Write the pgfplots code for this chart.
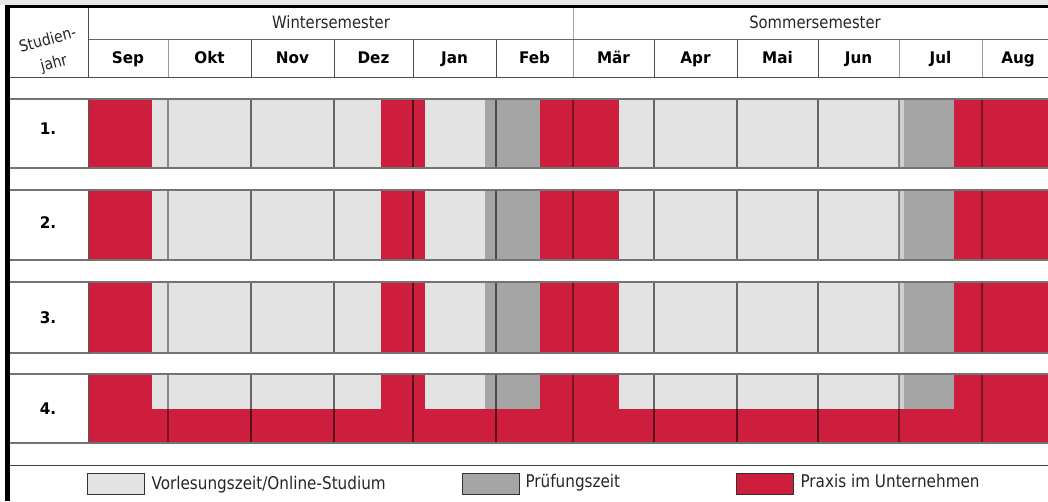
\documentclass[border=0pt]{standalone}
\usepackage{pgfplots}
\pgfplotsset{compat=1.18}
\usepackage{fontspec}
\setmainfont{DejaVu Sans}[FakeStretch=0.87]
\newfontfamily\bfam{DejaVu Sans}[FakeStretch=0.95]
\definecolor{praxis}{HTML}{CE1E3E}
\definecolor{vorl}{HTML}{E3E3E3}
\definecolor{pruef}{HTML}{A5A5A5}
\definecolor{strip}{HTML}{D0D0D0}
\newcommand{\seg}[5]{\addplot[fill=#1,draw=none] coordinates {(#2,#4) (#3,#4) (#3,#5) (#2,#5)} --cycle;}
\newcommand{\stdrow}[2]{%
  \seg{praxis}{88}{152}{#1}{#2}
  \seg{vorl}{152}{381}{#1}{#2}
  \seg{praxis}{381}{425}{#1}{#2}
  \seg{vorl}{425}{485}{#1}{#2}
  \seg{pruef}{485}{540}{#1}{#2}
  \seg{praxis}{540}{619}{#1}{#2}
  \seg{vorl}{619}{899}{#1}{#2}
  \seg{strip}{899}{904}{#1}{#2}
  \seg{pruef}{904}{954}{#1}{#2}
  \seg{praxis}{954}{1048}{#1}{#2}
}
\newcommand{\mon}[2]{\node[anchor=base,font=\bfam\fontsize{16}{18}\selectfont\bfseries] at (axis cs:#1,63) {#2};}
\newcommand{\yr}[2]{\node[font=\bfam\fontsize{16}{18}\selectfont\bfseries] at (axis cs:48,#1) {#2};}
\begin{document}
\begin{tikzpicture}
\begin{axis}[x=1pt,y=1pt,xmin=0,xmax=1048,ymin=0,ymax=501,y dir=reverse,
  axis lines=none,scale only axis,clip=true,
  every node/.style={inner sep=0pt}]
\fill[white] (axis cs:0,0) rectangle (axis cs:1048,501);
\fill[black!9] (axis cs:0,0) rectangle (axis cs:1048,4.5);
% rows
\stdrow{99}{168}
\stdrow{190}{260}
\stdrow{282}{353}
\stdrow{374}{409}
\seg{praxis}{88}{1048}{409}{443}
% month lines in rows
\pgfplotsinvokeforeach{251,334,413,496,654,737,818}{
  \draw[black,opacity=0.55,line width=1.1pt] (axis cs:#1,99)--(axis cs:#1,168) (axis cs:#1,190)--(axis cs:#1,260) (axis cs:#1,282)--(axis cs:#1,353) (axis cs:#1,374)--(axis cs:#1,443);
  \draw[black!70,line width=1pt] (axis cs:#1,39)--(axis cs:#1,77);
}
\pgfplotsinvokeforeach{168,573,899,982}{
  \draw[black,opacity=0.4,line width=1.1pt] (axis cs:#1,99)--(axis cs:#1,168) (axis cs:#1,190)--(axis cs:#1,260) (axis cs:#1,282)--(axis cs:#1,353) (axis cs:#1,374)--(axis cs:#1,443);
  \draw[black!40,line width=1pt] (axis cs:#1,39)--(axis cs:#1,77);
}
% row borders
\pgfplotsinvokeforeach{99,168,190,260,282,353,374,443}{
  \draw[black!55,line width=1.1pt] (axis cs:10,#1)--(axis cs:1048,#1);
}
\draw[black!65,line width=1pt] (axis cs:88,99)--(axis cs:88,168) (axis cs:88,190)--(axis cs:88,260) (axis cs:88,282)--(axis cs:88,353) (axis cs:88,374)--(axis cs:88,443);
% header lines
\draw[black!60,line width=1pt] (axis cs:88,39)--(axis cs:1048,39);
\draw[black!70,line width=1pt] (axis cs:10,77)--(axis cs:1048,77);
\draw[black!70,line width=1pt] (axis cs:88,8)--(axis cs:88,77);
\draw[black!35,line width=1pt] (axis cs:573,8)--(axis cs:573,39);
\draw[black!75,line width=1pt] (axis cs:10,465)--(axis cs:1048,465);
% thick frame
\fill[black] (axis cs:5,4.5) rectangle (axis cs:1048,8);
\fill[black] (axis cs:5,4.5) rectangle (axis cs:10,501);
% header text
\node[rotate=15,font=\fontsize{16}{18}\selectfont,text=black!85] at (axis cs:47.5,39) {Studien-};
\node[rotate=15,font=\fontsize{16}{18}\selectfont,text=black!85] at (axis cs:54,64) {jahr};
\node[anchor=base,font=\fontsize{17}{18}\selectfont,text=black!85] at (axis cs:331,28.7) {Wintersemester};
\node[anchor=base,font=\fontsize{17}{18}\selectfont,text=black!85] at (axis cs:815,28.7) {Sommersemester};
\mon{128}{Sep}
\mon{209.5}{Okt}
\mon{292.5}{Nov}
\mon{373.5}{Dez}
\mon{454.5}{Jan}
\mon{534.5}{Feb}
\mon{613.5}{Mär}
\mon{695.5}{Apr}
\mon{777.5}{Mai}
\mon{858.5}{Jun}
\mon{940.5}{Jul}
\mon{1018}{Aug}
% row labels
\yr{129}{1.}
\yr{223}{2.}
\yr{317.5}{3.}
\yr{408.5}{4.}
% legend
\draw[fill=vorl,draw=black!80,line width=1pt] (axis cs:87,473) rectangle (axis cs:144,494);
\draw[fill=pruef,draw=black!80,line width=1pt] (axis cs:462,473) rectangle (axis cs:519,494);
\draw[fill=praxis,draw=black!80,line width=1pt] (axis cs:736,473) rectangle (axis cs:793,494);
\node[anchor=base west,font=\fontsize{17.5}{18}\selectfont,text=black!85] at (axis cs:148,489.5) {Vorlesungszeit/Online-Studium};
\node[anchor=base west,font=\fontsize{17.5}{18}\selectfont,text=black!85] at (axis cs:522,487) {Prüfungszeit};
\node[anchor=base west,font=\fontsize{17.5}{18}\selectfont,text=black!85] at (axis cs:797,487) {Praxis im Unternehmen};
\end{axis}
\end{tikzpicture}
\end{document}
